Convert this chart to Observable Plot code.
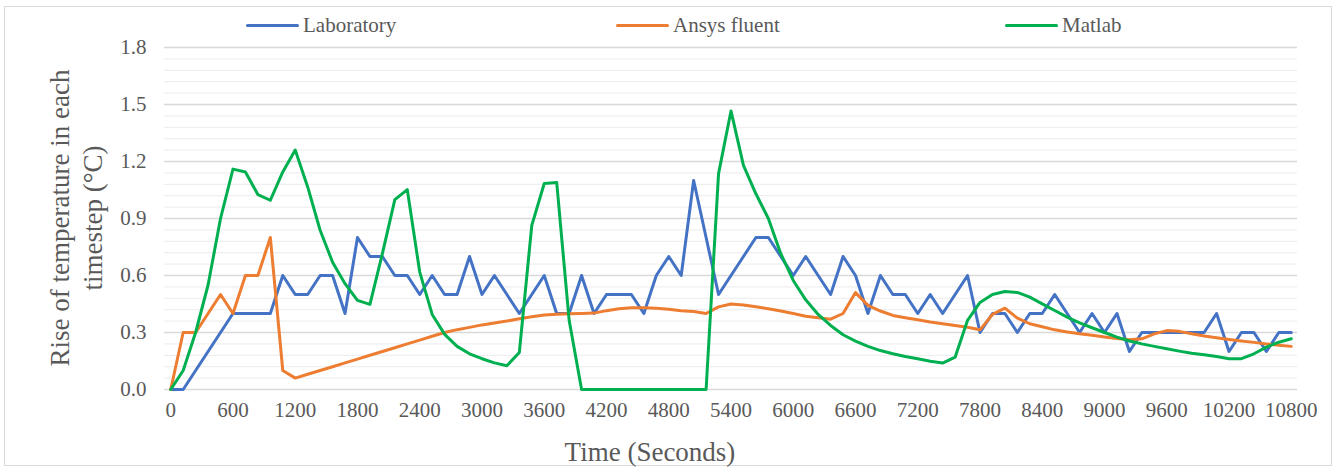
<!DOCTYPE html>
<html>
<head>
<meta charset="utf-8">
<script src="https://cdn.jsdelivr.net/npm/d3@7"></script>
<script src="https://cdn.jsdelivr.net/npm/@observablehq/plot@0.6"></script>
<style>
  html, body { margin: 0; padding: 0; background: #fff; }
  #wrap { position: relative; width: 1336px; height: 469px; overflow: hidden; font-family: "Liberation Serif", "Times New Roman", serif; color: #595959; }
  #wrap * { font-family: "Liberation Serif", "Times New Roman", serif !important; }
  #border { position: absolute; left: 4px; top: 6px; width: 1328px; height: 460px; border: 1px solid #d9d9d9; box-sizing: border-box; }
  #chart { position: absolute; left: 0; top: 0; }
  #chart svg text { fill: #595959; }
  .leg { position: absolute; top: 13px; height: 24px; display: flex; align-items: center; font-size: 21px; white-space: nowrap; }
  .leg .sw { width: 53px; height: 3px; border-radius: 2px; margin-right: 4px; }
  #xtitle { position: absolute; left: 450px; width: 400px; top: 437px; text-align: center; font-size: 27px; line-height: 30px; white-space: nowrap; }
  #ytitle { position: absolute; left: -123.5px; top: 185px; width: 400px; height: 66px; text-align: center; font-size: 27px; line-height: 33px; transform: rotate(-90deg); white-space: nowrap; }
</style>
</head>
<body>
<div id="wrap">
  <div id="border"></div>
  <div id="chart"></div>
  <div id="legend"></div>
  <div id="xtitle"></div>
  <div id="ytitle"></div>
</div>
<script>
// ---- Data ----
const times = [0,120,240,360,480,600,720,840,960,1080,1200,1320,1440,1560,1680,1800,1920,2040,2160,2280,2400,2520,2640,2760,2880,3000,3120,3240,3360,3480,3600,3720,3840,3960,4080,4200,4320,4440,4560,4680,4800,4920,5040,5160,5280,5400,5520,5640,5760,5880,6000,6120,6240,6360,6480,6600,6720,6840,6960,7080,7200,7320,7440,7560,7680,7800,7920,8040,8160,8280,8400,8520,8640,8760,8880,9000,9120,9240,9360,9480,9600,9720,9840,9960,10080,10200,10320,10440,10560,10680,10800];

const laboratory = [0,0,0.1,0.2,0.3,0.4,0.4,0.4,0.4,0.6,
 0.5,0.5,0.6,0.6,0.4,0.8,0.7,0.7,0.6,0.6,
 0.5,0.6,0.5,0.5,0.7,0.5,0.6,0.5,0.4,0.5,
 0.6,0.4,0.4,0.6,0.4,0.5,0.5,0.5,0.4,0.6,
 0.7,0.6,1.1,0.8,0.5,0.6,0.7,0.8,0.8,0.7,
 0.6,0.7,0.6,0.5,0.7,0.6,0.4,0.6,0.5,0.5,
 0.4,0.5,0.4,0.5,0.6,0.3,0.4,0.4,0.3,0.4,
 0.4,0.5,0.4,0.3,0.4,0.3,0.4,0.2,0.3,0.3,
 0.3,0.3,0.3,0.3,0.4,0.2,0.3,0.3,0.2,0.3,
 0.3];

const ansysFluent = [0,0.3,0.3,0.4,0.5,0.4,0.6,0.6,0.8,0.10,
 0.06,0.08,0.10,0.12,0.14,0.16,0.18,0.20,0.22,0.24,
 0.26,0.28,0.30,0.315,0.327,0.34,0.35,0.36,0.372,0.383,
 0.392,0.396,0.399,0.40,0.402,0.415,0.425,0.43,0.43,0.428,
 0.422,0.415,0.41,0.40,0.435,0.45,0.445,0.435,0.425,0.413,
 0.40,0.386,0.378,0.37,0.40,0.51,0.443,0.413,0.39,0.378,
 0.367,0.355,0.346,0.337,0.328,0.314,0.395,0.428,0.376,0.346,
 0.33,0.314,0.303,0.293,0.285,0.276,0.268,0.262,0.267,0.293,
 0.31,0.306,0.293,0.282,0.272,0.263,0.255,0.248,0.24,0.233,
 0.227];

const matlab = [0,0.10,0.30,0.55,0.90,1.16,1.145,1.026,0.996,1.145,
 1.26,1.066,0.838,0.67,0.557,0.469,0.448,0.715,0.999,1.052,
 0.618,0.395,0.29,0.227,0.188,0.162,0.14,0.125,0.195,0.864,
 1.084,1.09,0.364,0,0,0,0,0,0,0,
 0,0,0,0,1.136,1.466,1.18,1.03,0.90,0.715,
 0.574,0.472,0.395,0.337,0.288,0.255,0.227,0.205,0.188,0.174,
 0.162,0.149,0.139,0.17,0.364,0.458,0.50,0.516,0.511,0.486,
 0.451,0.416,0.381,0.351,0.325,0.30,0.276,0.255,0.24,0.227,
 0.214,0.202,0.191,0.183,0.174,0.162,0.162,0.188,0.223,0.249,
 0.267];

const seriesNames = ["Laboratory", "Ansys fluent", "Matlab"];
const seriesColors = ["#4472C4", "#ED7D31", "#00B050"];
const xTicks = [0,600,1200,1800,2400,3000,3600,4200,4800,5400,6000,6600,7200,7800,8400,9000,9600,10200,10800];
const yMajorTicks = [0,0.3,0.6,0.9,1.2,1.5,1.8];
const yMinorTicks = [0.06,0.12,0.18,0.24,0.36,0.42,0.48,0.54,0.66,0.72,0.78,0.84,0.96,1.02,1.08,1.14,1.26,1.32,1.38,1.44,1.56,1.62,1.68,1.74];
const xTitle = "Time (Seconds)";
const yTitleLines = ["Rise of temperature in each", "timestep (°C)"];

// ---- Build table ----
const seriesValues = [laboratory, ansysFluent, matlab];
const rows = [];
seriesNames.forEach((name, si) => {
  times.forEach((t, i) => rows.push({ t, v: seriesValues[si][i], series: name }));
});

const chart = Plot.plot({
  width: 1336,
  height: 469,
  marginTop: 47,
  marginBottom: 80,
  marginLeft: 164,
  marginRight: 39,
  style: { fontSize: "21px", color: "#595959", background: "transparent", overflow: "visible" },
  x: { domain: [-60, 10860], ticks: xTicks, tickFormat: d => String(d), tickSize: 0, tickPadding: 13, label: null },
  y: { domain: [0, 1.8], ticks: yMajorTicks, tickFormat: d => d.toFixed(1), tickSize: 0, tickPadding: 18, label: null },
  color: { domain: seriesNames, range: seriesColors },
  marks: [
    Plot.ruleY(yMinorTicks, { stroke: "#efefef", strokeWidth: 1.3 }),
    Plot.ruleY(yMajorTicks, { stroke: "#d9d9d9", strokeWidth: 1.3 }),
    Plot.line(rows, { x: "t", y: "v", z: "series", stroke: "series", strokeWidth: 3, strokeLinejoin: "round", strokeLinecap: "round" })
  ]
});
document.getElementById("chart").appendChild(chart);

// ---- Legend ----
const legendX = [246, 616, 1005];
const legend = document.getElementById("legend");
seriesNames.forEach((name, i) => {
  const item = document.createElement("div");
  item.className = "leg";
  item.style.left = legendX[i] + "px";
  const sw = document.createElement("div");
  sw.className = "sw";
  sw.style.background = seriesColors[i];
  const label = document.createElement("span");
  label.textContent = name;
  item.appendChild(sw);
  item.appendChild(label);
  legend.appendChild(item);
});

document.getElementById("xtitle").textContent = xTitle;
document.getElementById("ytitle").innerHTML = yTitleLines.map(s => "<div>" + s + "</div>").join("");
</script>
</body>
</html>
